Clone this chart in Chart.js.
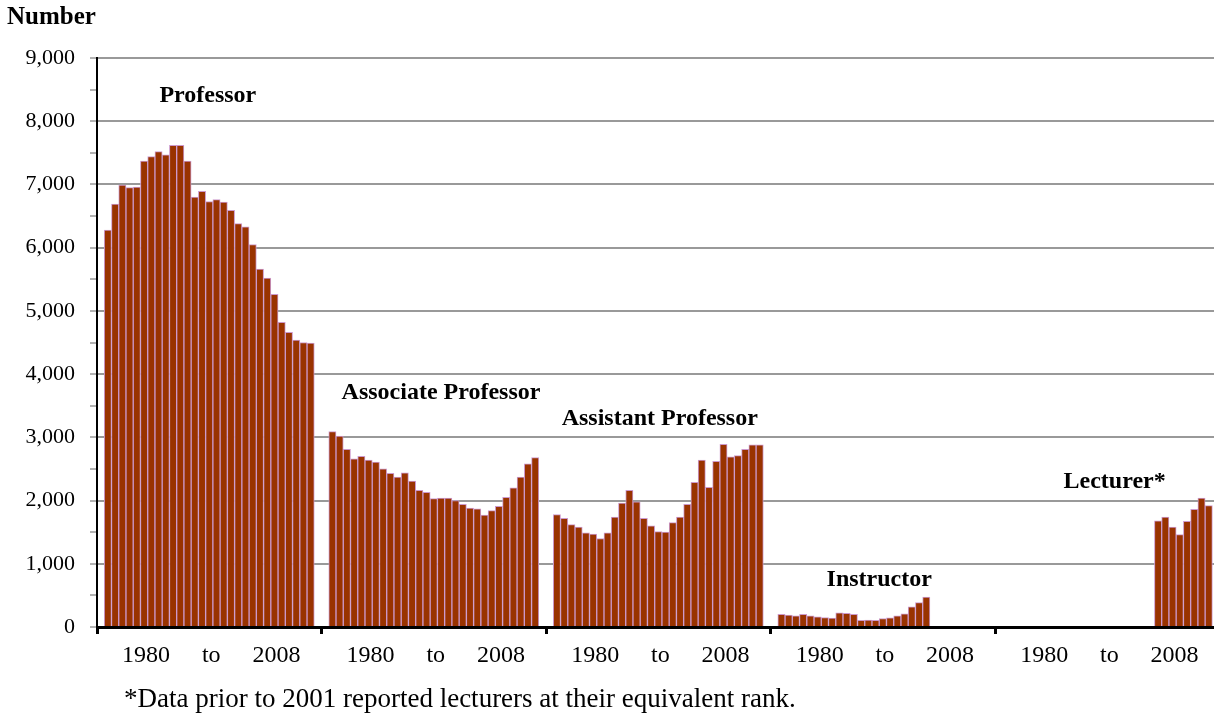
<!DOCTYPE html>
<html lang="en">
<head>
<meta charset="UTF-8">
<title>Faculty by Rank, 1980 to 2008</title>
<script src="https://cdn.jsdelivr.net/npm/chart.js"></script>
<style>
  html, body { margin: 0; padding: 0; background: #fff; overflow: hidden; }
  /* the original plot runs a few pixels past the right edge of the window */
  #wrap { width: 1223px; height: 715px; position: relative; }
</style>
</head>
<body>
<div id="wrap"><canvas id="rankChart"></canvas></div>
<script>
// one bar per year, 1980 to 2008, for each rank
const years = ['1980','1981','1982','1983','1984','1985','1986','1987','1988','1989',
               '1990','1991','1992','1993','1994','1995','1996','1997','1998','1999',
               '2000','2001','2002','2003','2004','2005','2006','2007','2008'];

const ranks = ['Professor', 'Associate Professor', 'Assistant Professor', 'Instructor', 'Lecturer*'];

const professor = [6280, 6690, 6990, 6950, 6960, 7370, 7440, 7520, 7470, 7620,
                   7620, 7370, 6800, 6890, 6730, 6760, 6720, 6590, 6380, 6330,
                   6050, 5660, 5520, 5260, 4820, 4660, 4540, 4500, 4490];
const associate = [3090, 3020, 2810, 2660, 2700, 2640, 2610, 2500, 2430, 2370,
                   2440, 2310, 2160, 2130, 2030, 2040, 2040, 2000, 1940, 1880,
                   1870, 1770, 1840, 1910, 2050, 2200, 2370, 2580, 2680];
const assistant = [1780, 1720, 1620, 1580, 1490, 1470, 1400, 1490, 1740, 1960,
                   2160, 1980, 1720, 1600, 1510, 1500, 1650, 1740, 1940, 2290,
                   2640, 2210, 2620, 2890, 2690, 2710, 2810, 2880, 2880];
const instructor = [200, 190, 175, 200, 175, 160, 150, 140, 225, 215,
                    200, 105, 110, 105, 135, 145, 175, 210, 320, 385,
                    475, null, null, null, null, null, null, null, null];
const lecturer = [null, null, null, null, null, null, null, null, null, null,
                  null, null, null, null, null, null, null, null, null, null,
                  null, 1680, 1740, 1580, 1460, 1670, 1860, 2040, 1920];

// x tick text under every group, and the slot inside the group it sits on
const xTickText = ['1980', 'to', '2008'];
const xTickSlots = [6, 15, 24];

// where the rank names sit: bar index across the whole chart, and value
const rankLabelIndex = [14.8, 47, 77.2, 107.5, 140];
const rankLabelValue = [8400, 3700, 3300, 750, 2300];

const footnote = '*Data prior to 2001 reported lecturers at their equivalent rank.';

// each group is: empty slot, 29 years, empty slot
const series = [professor, associate, assistant, instructor, lecturer];
const groupSize = years.length + 2;
const labels = [];
const values = [];
series.forEach(s => {
    labels.push('');
    values.push(null);
    years.forEach((y, i) => { labels.push(y); values.push(s[i]); });
    labels.push('');
    values.push(null);
});

const serif = 'Liberation Serif, Times New Roman, serif';

const textPlugin = {
    id: 'chartText',
    afterDraw(chart) {
        const ctx = chart.ctx;
        const x = chart.scales.x, y = chart.scales.y;
        ctx.save();
        ctx.fillStyle = '#000';
        ctx.textBaseline = 'middle';

        ctx.font = 'bold 25px ' + serif;
        ctx.textAlign = 'left';
        ctx.fillText('Number', 7, 18);

        ctx.font = 'bold 24px ' + serif;
        ctx.textAlign = 'center';
        ranks.forEach((r, i) => {
            ctx.fillText(r, x.getPixelForValue(rankLabelIndex[i]), y.getPixelForValue(rankLabelValue[i]));
        });

        ctx.font = '27px ' + serif;
        ctx.textAlign = 'left';
        ctx.textBaseline = 'alphabetic';
        ctx.fillText(footnote, 124, 707);
        ctx.restore();
    }
};

const ctx = document.getElementById('rankChart').getContext('2d');
new Chart(ctx, {
    type: 'bar',
    data: {
        labels: labels,
        datasets: [{
            label: 'Number',
            data: values,
            backgroundColor: '#993300',
            borderColor: '#cc99cc',
            borderWidth: 1,
            borderSkipped: 'start',
            barPercentage: 1.0,
            categoryPercentage: 1.0
        }]
    },
    options: {
        responsive: true,
        maintainAspectRatio: false,
        animation: false,
        layout: { padding: { top: 58, left: 0, right: 0, bottom: 0 } },
        plugins: {
            legend: { display: false },
            tooltip: { enabled: false }
        },
        scales: {
            x: {
                z: 1,
                offset: true,
                grid: {
                    offset: true,
                    drawOnChartArea: false,
                    tickLength: 7,
                    tickWidth: 3,
                    tickColor: c => (c.index % groupSize === 0 ? '#000' : 'rgba(0,0,0,0)')
                },
                border: { color: '#000', width: 3 },
                ticks: {
                    autoSkip: false,
                    maxRotation: 0,
                    minRotation: 0,
                    padding: 7,
                    labelOffset: 2,
                    color: '#000',
                    font: { family: serif, size: 24 },
                    callback: (v, i) => {
                        const k = xTickSlots.indexOf(i % groupSize);
                        return k >= 0 ? xTickText[k] : '';
                    }
                },
                afterFit: s => { s.height = 88; }
            },
            y: {
                min: 0,
                max: 9000,
                grid: {
                    color: c => (c.tick.value % 1000 === 0 ? '#999999' : 'rgba(0,0,0,0)'),
                    lineWidth: 2,
                    tickLength: 7,
                    tickColor: '#666666',
                    tickWidth: 1
                },
                border: { color: '#000', width: 2 },
                ticks: {
                    stepSize: 500,
                    padding: 15,
                    color: '#000',
                    font: { family: serif, size: 22 },
                    callback: v => (v % 1000 === 0 ? v.toLocaleString('en-US') : '')
                },
                afterFit: s => { s.width = 97; }
            }
        }
    },
    plugins: [textPlugin]
});
</script>
</body>
</html>
